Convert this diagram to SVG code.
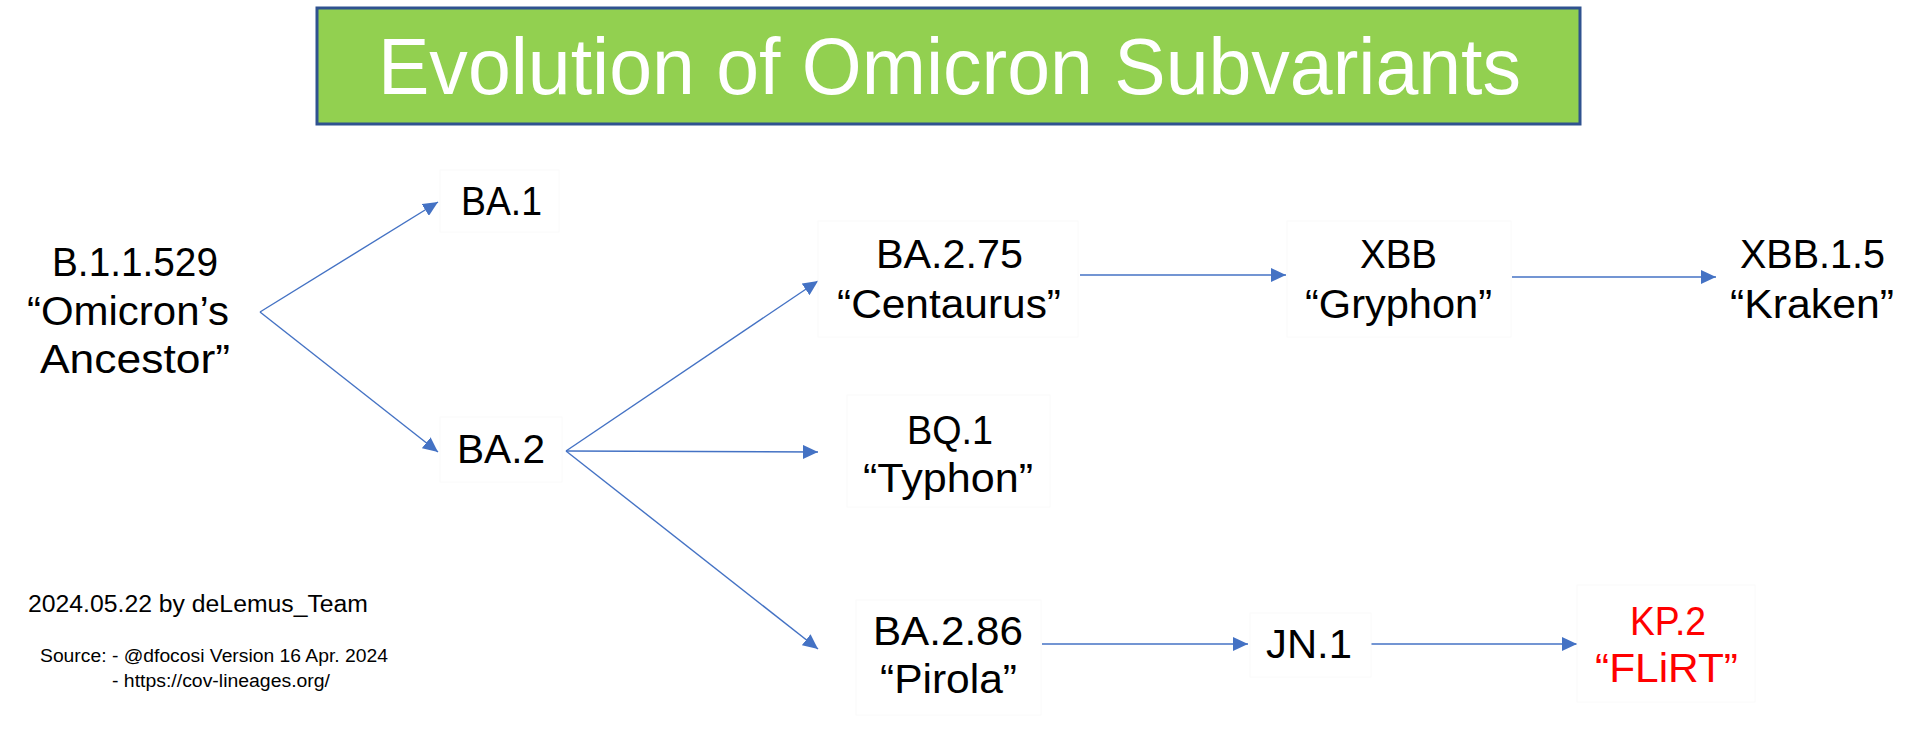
<svg xmlns="http://www.w3.org/2000/svg" width="1920" height="731" viewBox="0 0 1920 731">
  <style>
    .t { font-family: "Liberation Sans", Arial, sans-serif; fill: #000; }
    .n { font-size: 41px; }
    .red { fill: #FF0000; }
    .box { fill: #FFFFFF; stroke: #FAFAFA; stroke-width: 1; }
    .c { stroke: #4472C4; stroke-width: 1.4; fill: none; marker-end: url(#ah); }
    .foot1 { font-size: 23px; }
    .foot2 { font-size: 18px; }
  </style>
  <defs>
    <marker id="ah" markerUnits="userSpaceOnUse" markerWidth="16" markerHeight="14" refX="15" refY="7" orient="auto">
      <path d="M0,0 L15,7 L0,14 z" fill="#4472C4"/>
    </marker>
  </defs>
  <rect width="1920" height="731" fill="#FFFFFF"/>

  <g id="title">
    <rect x="317" y="8" width="1263" height="116" fill="#92D050" stroke="#2F528F" stroke-width="3"/>
    <text class="t" x="378" y="94" font-size="80" style="fill:#FFFFFF" textLength="1143" lengthAdjust="spacingAndGlyphs">Evolution of Omicron Subvariants</text>
  </g>

  <g id="connectors">
    <path class="c" d="M260,312 L438,202"/>
    <path class="c" d="M260,312 L438,452"/>
    <path class="c" d="M566,451 L818,281"/>
    <path class="c" d="M566,451 L818,452"/>
    <path class="c" d="M566,451 L818,649"/>
    <path class="c" d="M1080,275 L1286,275"/>
    <path class="c" d="M1512,277 L1716,277"/>
    <path class="c" d="M1042,644 L1248,644"/>
    <path class="c" d="M1371,644 L1577,644"/>
  </g>

  <g id="node-b11529">
    <text class="t n" x="52" y="276" textLength="166" lengthAdjust="spacingAndGlyphs">B.1.1.529</text>
    <text class="t n" x="27" y="325" textLength="202" lengthAdjust="spacingAndGlyphs">“Omicron’s</text>
    <text class="t n" x="40" y="373" textLength="190" lengthAdjust="spacingAndGlyphs">Ancestor”</text>
  </g>

  <g id="node-ba1">
    <rect class="box" x="440" y="170" width="119" height="62"/>
    <text class="t n" x="461" y="215" textLength="81" lengthAdjust="spacingAndGlyphs">BA.1</text>
  </g>

  <g id="node-ba2">
    <rect class="box" x="440" y="417" width="122" height="65"/>
    <text class="t n" x="457" y="463" textLength="88" lengthAdjust="spacingAndGlyphs">BA.2</text>
  </g>

  <g id="node-ba275">
    <rect class="box" x="818" y="221" width="260" height="116"/>
    <text class="t n" x="876" y="268" textLength="147" lengthAdjust="spacingAndGlyphs">BA.2.75</text>
    <text class="t n" x="837" y="318" textLength="224" lengthAdjust="spacingAndGlyphs">“Centaurus”</text>
  </g>

  <g id="node-xbb">
    <rect class="box" x="1287" y="221" width="224" height="116"/>
    <text class="t n" x="1360" y="268" textLength="77" lengthAdjust="spacingAndGlyphs">XBB</text>
    <text class="t n" x="1305" y="318" textLength="187" lengthAdjust="spacingAndGlyphs">“Gryphon”</text>
  </g>

  <g id="node-xbb15">
    <text class="t n" x="1740" y="268" textLength="145" lengthAdjust="spacingAndGlyphs">XBB.1.5</text>
    <text class="t n" x="1730" y="318" textLength="164" lengthAdjust="spacingAndGlyphs">“Kraken”</text>
  </g>

  <g id="node-bq1">
    <rect class="box" x="847" y="395" width="203" height="112"/>
    <text class="t n" x="907" y="444" textLength="86" lengthAdjust="spacingAndGlyphs">BQ.1</text>
    <text class="t n" x="863" y="492" textLength="170" lengthAdjust="spacingAndGlyphs">“Typhon”</text>
  </g>

  <g id="node-ba286">
    <rect class="box" x="856" y="600" width="185" height="115"/>
    <text class="t n" x="873" y="645" textLength="150" lengthAdjust="spacingAndGlyphs">BA.2.86</text>
    <text class="t n" x="880" y="693" textLength="137" lengthAdjust="spacingAndGlyphs">“Pirola”</text>
  </g>

  <g id="node-jn1">
    <rect class="box" x="1250" y="613" width="121" height="64"/>
    <text class="t n" x="1266" y="658" textLength="86" lengthAdjust="spacingAndGlyphs">JN.1</text>
  </g>

  <g id="node-kp2">
    <rect class="box" x="1577" y="585" width="178" height="117"/>
    <text class="t n red" x="1630" y="635" textLength="76" lengthAdjust="spacingAndGlyphs">KP.2</text>
    <text class="t n red" x="1595" y="682" textLength="143" lengthAdjust="spacingAndGlyphs">“FLiRT”</text>
  </g>

  <g id="footer">
    <text class="t foot1" x="28" y="612" textLength="340" lengthAdjust="spacingAndGlyphs">2024.05.22 by deLemus_Team</text>
    <text class="t foot2" x="40" y="662" textLength="348" lengthAdjust="spacingAndGlyphs">Source: - @dfocosi Version 16 Apr. 2024</text>
    <text class="t foot2" x="112" y="687" textLength="218" lengthAdjust="spacingAndGlyphs">- https://cov-lineages.org/</text>
  </g>
</svg>
